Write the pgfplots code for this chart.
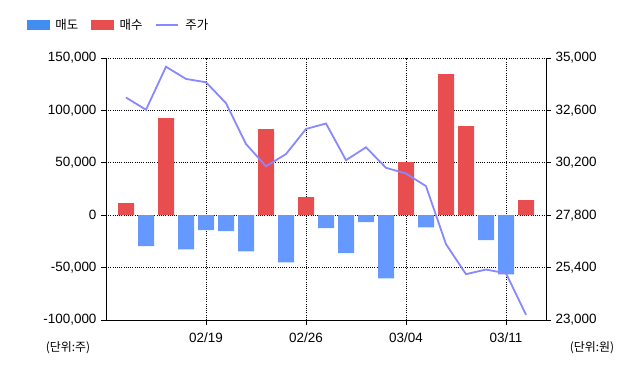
\documentclass[border=0pt]{standalone}
\usepackage{fontspec}
\setmainfont{Liberation Sans}
\newfontfamily\kr{Noto Sans CJK KR}
\usepackage{pgfplots}
\pgfplotsset{compat=1.18}
\definecolor{sellblue}{RGB}{102,153,255}
\definecolor{legblue}{RGB}{66,142,240}
\definecolor{buyred}{RGB}{232,78,80}
\definecolor{lineblue}{RGB}{136,136,255}
\begin{document}
\begin{tikzpicture}
\path[use as bounding box] (0,0) rectangle (640bp,368bp);
\pgfplotsset{
  common/.style={
    at={(106bp,48bp)}, anchor=south west, scale only axis,
    width=440bp, height=262bp, xmin=0, xmax=22,
    tick align=outside, major tick length=5bp,
    tick style={black, line width=0.8bp},
    axis line style={black, line width=0.8bp},
    ticklabel style={font=\fontsize{13.5}{16}\selectfont},
    scaled y ticks=false,
  }
}
\begin{axis}[common,
  ymin=-100000, ymax=150000,
  axis x line*=bottom, axis y line*=left,
  ytick={-100000,-50000,0,50000,100000,150000},
  yticklabels={{-100,000},{-50,000},{0},{50,000},{100,000},{150,000}},
  xtick={5,10,15,20}, xticklabels={02/19,02/26,03/04,03/11},
  grid=major,
  major grid style={black, line width=0.8bp, dash pattern=on 1bp off 1.2bp},
  yticklabel style={xshift=-1bp},
  xticklabel style={yshift=-4bp},
]
\addplot[ybar, bar width=16bp, bar shift=0pt, fill=sellblue, draw=none] coordinates {
(2,-29600) (4,-32500) (5,-14300) (6,-15300) (7,-34400) (9,-44900)
(11,-12400) (12,-36300) (13,-6700) (14,-60200) (16,-11500) (19,-23900) (20,-56400)};
\addplot[ybar, bar width=16bp, bar shift=0pt, fill=buyred, draw=none] coordinates {
(1,11500) (3,92700) (8,82200) (10,17200) (15,50600) (17,134700) (18,85000) (21,14300)};
\end{axis}
\begin{axis}[common,
  ymin=23000, ymax=35000,
  axis x line=none, axis y line*=right,
  ytick={23000,25400,27800,30200,32600,35000},
  yticklabels={{23,000},{25,400},{27,800},{30,200},{32,600},{35,000}},
  yticklabel style={xshift=1bp},
  legend style={at={(-0.187,1.164)}, anchor=north west, draw=none, fill=none,
    font=\kr\fontsize{12.5}{14}\selectfont, legend columns=3,
    /tikz/every odd column/.append style={column sep=4bp},
    /tikz/every even column/.append style={column sep=11bp},
    nodes={inner sep=2bp}},
]
\addlegendimage{legend image code/.code={\fill[legblue] (0bp,-4.5bp) rectangle (22bp,4.5bp);}}
\addlegendentry{매도}
\addlegendimage{legend image code/.code={\fill[buyred] (0bp,-4.5bp) rectangle (22bp,4.5bp);}}
\addlegendentry{매수}
\addplot[lineblue, line width=1.8bp, mark=none,
  legend image code/.code={\draw[lineblue, line width=1.8bp] (0bp,0bp) -- (22bp,0bp);}] coordinates {
(1,33190) (2,32630) (3,34600) (4,34040) (5,33890) (6,32930) (7,31060)
(8,30040) (9,30600) (10,31750) (11,32000) (12,30320) (13,30910) (14,29970)
(15,29710) (16,29130) (17,26470) (18,25100) (19,25310) (20,25140) (21,23240)};
\addlegendentry{주가}
\end{axis}
\node[font=\kr\fontsize{12}{14}\selectfont] at (68bp,20bp) {(단위:주)};
\node[font=\kr\fontsize{12}{14}\selectfont] at (592bp,20bp) {(단위:원)};
\end{tikzpicture}
\end{document}
